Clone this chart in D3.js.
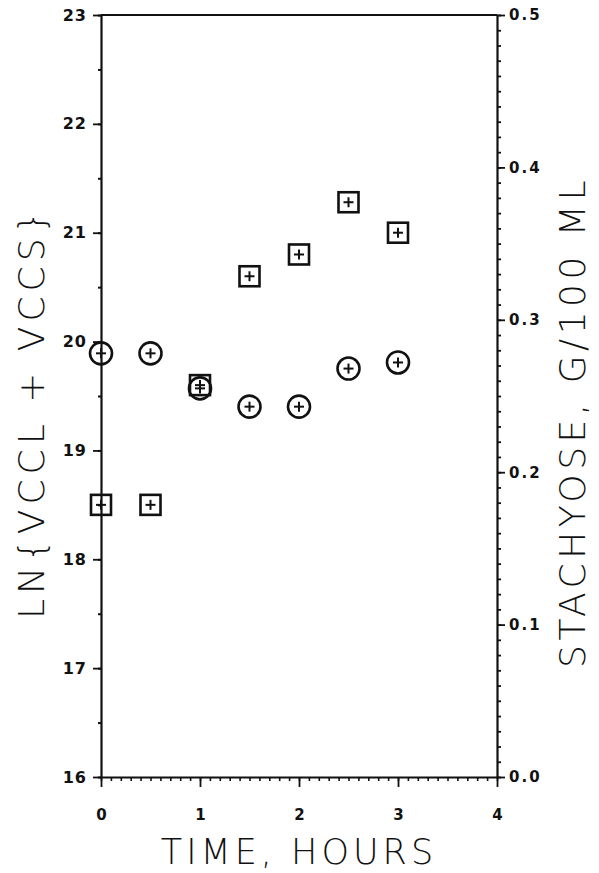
<!DOCTYPE html>
<html>
<head>
<meta charset="utf-8">
<script src="https://cdn.jsdelivr.net/npm/d3@7"></script>
<style>
  body { margin: 0; background: #fff; }
  svg { display: block; }
  .tick text { font-family: "DejaVu Sans", sans-serif; font-weight: bold; }
  .title { font-family: "DejaVu Sans", sans-serif; font-weight: 200; fill: #111; }
</style>
</head>
<body>
<svg width="599" height="873"></svg>
<script>
const svg = d3.select("svg"),
      mLeft = 101, mRight = 497, mTop = 15, mBottom = 777

// time, hours
const hours = [0, 0.5, 1, 1.5, 2, 2.5, 3]
// LN(VCCL + VCCS) - squares, left axis
const lnCells = [18.5, 18.5, 19.6, 20.6, 20.8, 21.28, 21.0]
// stachyose g/100 ml - circles, right axis
const stachyose = [0.278, 0.278, 0.255, 0.243, 0.243, 0.268, 0.272]

const xTicks = [0, 1, 2, 3, 4],
      yTicks = [16, 17, 18, 19, 20, 21, 22, 23],
      y2Ticks = [0, 0.1, 0.2, 0.3, 0.4, 0.5]

const x = d3.scaleLinear().domain([0, 4]).range([mLeft, mRight]),
      y = d3.scaleLinear().domain([16, 23]).range([mBottom, mTop]),
      y2 = d3.scaleLinear().domain([0, 0.5]).range([mBottom, mTop])

const ink = "#111"

// frame top line
svg.append("line")
    .attr("x1", mLeft).attr("x2", mRight)
    .attr("y1", mTop).attr("y2", mTop)
    .style("stroke", ink).style("stroke-width", 2.2)

// bottom axis: minor ticks every 0.1 h, majors at whole hours
svg.append("g")
    .attr("transform", `translate(0,${mBottom})`)
    .call(d3.axisBottom(x).ticks(40).tickSize(4).tickFormat(""))
    .call(g => g.select(".domain").remove())
    .call(g => g.selectAll("line").style("stroke", ink).style("stroke-width", 1.6))
svg.append("g")
    .attr("transform", `translate(0,${mBottom})`)
    .call(d3.axisBottom(x).tickValues(xTicks).tickSize(10).tickSizeOuter(0).tickPadding(22).tickFormat(d3.format("d")))
    .call(g => g.select(".domain").style("stroke", ink).style("stroke-width", 2.2))
    .call(g => g.selectAll("line").style("stroke", ink).style("stroke-width", 1.8))
    .call(g => g.selectAll("text").style("font-size", "15px").style("fill", ink))

// left axis
svg.append("g")
    .attr("transform", `translate(${mLeft},0)`)
    .call(d3.axisLeft(y).ticks(14).tickSize(3).tickFormat(""))
    .call(g => g.select(".domain").remove())
    .call(g => g.selectAll("line").style("stroke", ink).style("stroke-width", 2))
svg.append("g")
    .attr("transform", `translate(${mLeft},0)`)
    .call(d3.axisLeft(y).tickValues(yTicks).tickSize(8).tickSizeOuter(0).tickPadding(6).tickFormat(d3.format("d")))
    .call(g => g.select(".domain").style("stroke", ink).style("stroke-width", 2.2))
    .call(g => g.selectAll("line").style("stroke", ink).style("stroke-width", 1.8))
    .call(g => g.selectAll("text").style("font-size", "16px").style("fill", ink).style("letter-spacing", "1px"))

// right axis: minor ticks every 0.01
svg.append("g")
    .attr("transform", `translate(${mRight},0)`)
    .call(d3.axisRight(y2).ticks(50).tickSize(4).tickFormat(""))
    .call(g => g.select(".domain").remove())
    .call(g => g.selectAll("line").style("stroke", ink).style("stroke-width", 1.8))
svg.append("g")
    .attr("transform", `translate(${mRight},0)`)
    .call(d3.axisRight(y2).tickValues(y2Ticks).tickSize(8).tickSizeOuter(0).tickPadding(4).tickFormat(d3.format(".1f")))
    .call(g => g.select(".domain").style("stroke", ink).style("stroke-width", 2.2))
    .call(g => g.selectAll("line").style("stroke", ink).style("stroke-width", 1.8))
    .call(g => g.selectAll("text").style("font-size", "15px").style("fill", ink).style("letter-spacing", "2px"))

// markers
const half = 10, plus = 5

function addPlus(sel) {
  sel.append("line").attr("x1", -plus).attr("x2", plus).attr("y1", 0).attr("y2", 0)
    .style("stroke", ink).style("stroke-width", 2)
  sel.append("line").attr("x1", 0).attr("x2", 0).attr("y1", -plus).attr("y2", plus)
    .style("stroke", ink).style("stroke-width", 2)
}

const ci = svg.append("g").selectAll("g")
    .data(hours.map((h, i) => ({h: h, v: stachyose[i]})))
  .enter().append("g")
    .attr("transform", d => `translate(${x(d.h)},${y2(d.v)})`)
ci.append("circle")
    .attr("r", 11)
    .style("fill", "none").style("stroke", ink).style("stroke-width", 2.6)
addPlus(ci)

const sq = svg.append("g").selectAll("g")
    .data(hours.map((h, i) => ({h: h, v: lnCells[i]})))
  .enter().append("g")
    .attr("transform", d => `translate(${x(d.h)},${y(d.v)})`)
sq.append("rect")
    .attr("x", -half).attr("y", -half)
    .attr("width", half * 2).attr("height", half * 2)
    .style("fill", "none").style("stroke", ink).style("stroke-width", 2.6)
addPlus(sq)

// axis titles
svg.append("text")
    .attr("class", "title")
    .attr("x", x(2)).attr("y", 864)
    .attr("text-anchor", "middle")
    .style("font-size", "35px").style("letter-spacing", "4px")
    .text("TIME, HOURS")

svg.append("text")
    .attr("class", "title")
    .attr("transform", `translate(44,${y(19.35)}) rotate(-90)`)
    .attr("text-anchor", "middle")
    .style("font-size", "36px").style("letter-spacing", "5px")
    .text("LN{VCCL + VCCS}")

svg.append("text")
    .attr("class", "title")
    .attr("transform", `translate(585,${y2(0.25) + 26}) rotate(-90)`)
    .attr("text-anchor", "middle")
    .style("font-size", "36px").style("letter-spacing", "4.5px")
    .text("STACHYOSE, G/100 ML")
</script>
</body>
</html>
